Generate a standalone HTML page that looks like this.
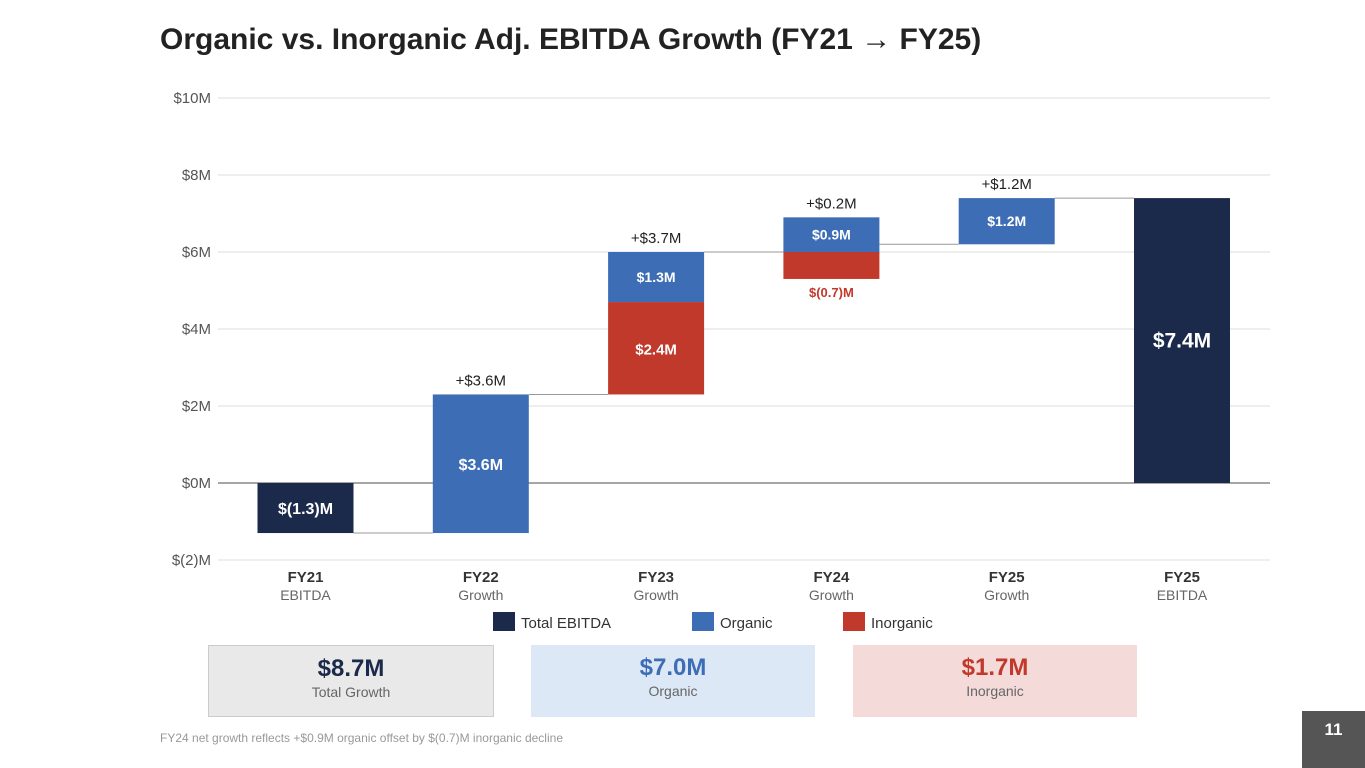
<!DOCTYPE html>
<html><head><meta charset="utf-8"><style>
body{margin:0;width:1365px;height:768px;background:#fff;font-family:"Liberation Sans",Arial,sans-serif;overflow:hidden;position:relative}
.box{position:absolute;top:645px;height:72px;text-align:center;box-sizing:border-box}
.box .v{font-size:24px;font-weight:bold;margin-top:9px;line-height:28px}
.box .l{font-size:14px;color:#666;line-height:18px}
</style></head><body>
<div style="position:absolute;left:160px;top:23px;font-size:30px;font-weight:bold;color:#222">Organic vs. Inorganic Adj. EBITDA Growth (FY21 → FY25)</div>
<svg id="chart" width="1365" height="640" style="position:absolute;left:0;top:0" font-family="Liberation Sans, Arial, sans-serif"></svg>
<div class="box" style="left:208px;width:286px;background:#e9e9e9;border:1px solid #ccc"><div class="v" style="color:#1b2a4a">$8.7M</div><div class="l">Total Growth</div></div>
<div class="box" style="left:531px;width:284px;background:#dce8f5"><div class="v" style="color:#3d6db5">$7.0M</div><div class="l">Organic</div></div>
<div class="box" style="left:853px;width:284px;background:#f5dada"><div class="v" style="color:#c0392b">$1.7M</div><div class="l">Inorganic</div></div>
<div style="position:absolute;left:160px;top:731px;font-size:12px;color:#999">FY24 net growth reflects +$0.9M organic offset by $(0.7)M inorganic decline</div>
<div style="position:absolute;left:1302px;top:711px;width:63px;height:57px;background:#555;color:#fff;font-weight:bold;font-size:17px;text-align:center;line-height:38px">11</div>
<script>
const categories=["FY21","FY22","FY23","FY24","FY25","FY25"];
const subLabels=["EBITDA","Growth","Growth","Growth","Growth","EBITDA"];
const bases=[0,-1.3,2.3,6.0,6.2,0];
const totals=[-1.3,null,null,null,null,7.4];
const organic=[0,3.6,1.3,0.9,1.2,0];
const inorganic=[0,0,2.4,-0.7,0,0];
const netLabels=[null,"+$3.6M","+$3.7M","+$0.2M","+$1.2M",null];
const segLabelsOrg=[null,"$3.6M","$1.3M","$0.9M","$1.2M",null];
const segLabelsInorg=[null,null,"$2.4M","$(0.7)M",null,null];
const totalLabels=["$(1.3)M",null,null,null,null,"$7.4M"];
const yTicks=[10,8,6,4,2,0,-2];
const yTickLabels=["$10M","$8M","$6M","$4M","$2M","$0M","$(2)M"];
const NAVY="#1b2a4a",BLUE="#3d6db5",RED="#c0392b";
const svg=document.getElementById('chart');
const NS="http://www.w3.org/2000/svg";
function y(v){return 483-v*38.5;}
function xc(i){return 305.5+i*175.3;}
const BW=96;
function mk(tag,attrs,txt){const e=document.createElementNS(NS,tag);for(const k in attrs)e.setAttribute(k,attrs[k]);if(txt!=null)e.textContent=txt;svg.appendChild(e);return e;}
yTicks.forEach((t,i)=>{
 const g=mk('line',{x1:218,x2:1270,y1:y(t),y2:y(t),stroke:t===0?'#888':'#ddd','stroke-width':t===0?1.5:1});
 
 
 const l=mk('text',{x:211,y:y(t)+5,'text-anchor':'end','font-size':15,fill:'#555'},yTickLabels[i]);
 
 
});
function bar(i,v0,v1,color){
 const r=mk('rect',{x:xc(i)-BW/2,y:Math.min(y(v0),y(v1)),width:BW,height:Math.abs(y(v0)-y(v1)),fill:color});
 
 
}
function lbl(x,yy,t,size,fill,bold,name){
 const e=mk('text',{x:x,y:yy,'text-anchor':'middle','font-size':size,fill:fill,'font-weight':bold?'bold':'normal'},t);
 
 
}
const ends=[];
categories.forEach((c,i)=>{
 const x=xc(i);
 if(totals[i]!=null){
  bar(i,0,totals[i],NAVY);ends.push(totals[i]);
  lbl(x,(y(0)+y(totals[i]))/2+(Math.abs(totals[i])>3?7:6),totalLabels[i],Math.abs(totals[i])>3?21:16,'#fff',true,'total-value-label');
 } else {
  let up=bases[i],down=bases[i];
  const inOrg=inorganic[i],org=organic[i];
  if(inOrg>0){bar(i,up,up+inOrg,RED);lbl(x,(y(up)+y(up+inOrg))/2+6,segLabelsInorg[i],15,'#fff',true,'inorganic-value-label');up+=inOrg;}
  if(org>0){bar(i,up,up+org,BLUE);lbl(x,(y(up)+y(up+org))/2+(org>2?6:5),segLabelsOrg[i],org>2?16:14,'#fff',true,'organic-value-label');up+=org;}
  if(inOrg<0){bar(i,down,down+inOrg,RED);lbl(x,y(down+inOrg)+18,segLabelsInorg[i],13,RED,true,'inorganic-value-label');down+=inOrg;}
  lbl(x,y(up)-9,netLabels[i],15,'#222',false,'net-change-label');
  ends.push(bases[i]+org+inOrg);
 }
 lbl(x,582,c,15,'#333',true,'category-label');
 lbl(x,600,subLabels[i],14,'#666',false,'category-sublabel');
});
for(let i=0;i<categories.length-1;i++){
 const nextStart=totals[i+1]!=null?totals[i+1]:bases[i+1];
 const l=mk('line',{x1:xc(i)+BW/2,x2:xc(i+1)-BW/2,y1:y(ends[i]),y2:y(nextStart),stroke:'#999','stroke-width':1});
 
 
}
[[493,NAVY,"Total EBITDA"],[692,BLUE,"Organic"],[843,RED,"Inorganic"]].forEach(d=>{
 const r=mk('rect',{x:d[0],y:612,width:22,height:19,fill:d[1]});
 
 
 const t=mk('text',{x:d[0]+28,y:628,'font-size':15,fill:'#333'},d[2]);
 
 
});
</script>
</body></html>
